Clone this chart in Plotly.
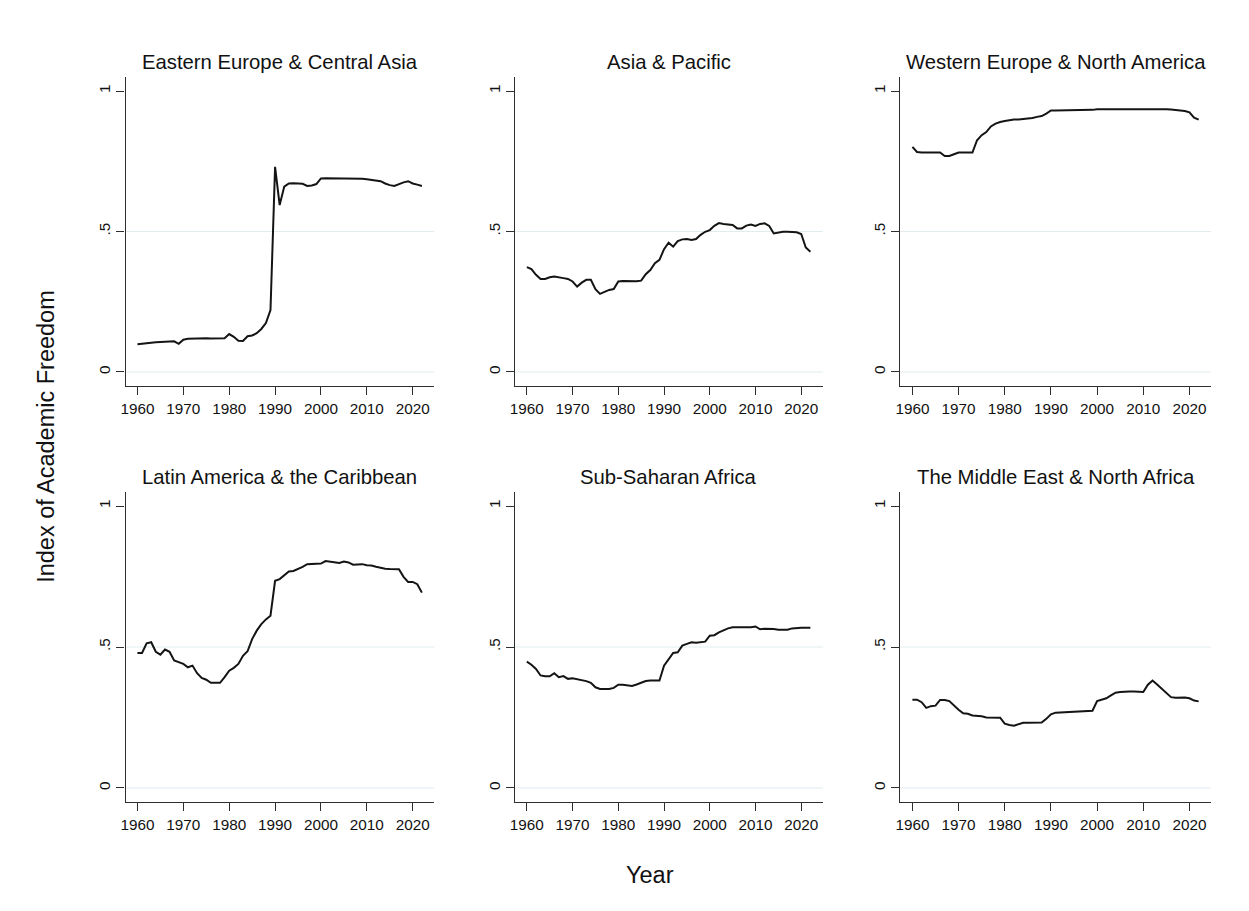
import plotly.graph_objects as go

# Academic Freedom Index, regional averages by year
years = list(range(1960, 2023))

eastern_europe_central_asia = [
    0.099, 0.101, 0.104, 0.105, 0.106, 0.107, 0.108, 0.109, 0.109, 0.100,
    0.115, 0.118, 0.119, 0.120, 0.120, 0.120, 0.119, 0.119, 0.119, 0.120,
    0.135, 0.125, 0.111, 0.110, 0.127, 0.130, 0.138, 0.153, 0.174, 0.220,
    0.730, 0.594, 0.660, 0.671, 0.672, 0.672, 0.670, 0.662, 0.664, 0.669,
    0.689, 0.690, 0.690, 0.689, 0.689, 0.690, 0.689, 0.690, 0.689, 0.688,
    0.686, 0.684, 0.680, 0.679, 0.671, 0.665, 0.662, 0.669, 0.675, 0.679,
    0.671, 0.667, 0.662,
]

asia_pacific = [
    0.373, 0.366, 0.346, 0.331, 0.331, 0.337, 0.340, 0.336, 0.334, 0.331,
    0.322, 0.304, 0.318, 0.328, 0.328, 0.295, 0.278, 0.285, 0.292, 0.295,
    0.322, 0.324, 0.323, 0.322, 0.323, 0.325, 0.348, 0.363, 0.387, 0.399,
    0.437, 0.460, 0.446, 0.466, 0.472, 0.473, 0.470, 0.473, 0.488, 0.499,
    0.505, 0.520, 0.530, 0.527, 0.525, 0.523, 0.511, 0.511, 0.521, 0.525,
    0.520, 0.527, 0.529, 0.520, 0.493, 0.496, 0.499, 0.499, 0.498, 0.497,
    0.491, 0.443, 0.428,
]

western_europe_north_america = [
    0.801, 0.783, 0.781, 0.781, 0.781, 0.781, 0.781, 0.769, 0.769, 0.775,
    0.781, 0.781, 0.780, 0.781, 0.825, 0.843, 0.854, 0.874, 0.884, 0.890,
    0.893, 0.897, 0.899, 0.899, 0.900, 0.902, 0.904, 0.908, 0.911, 0.920,
    0.931, 0.931, 0.931, 0.931, 0.931, 0.931, 0.931, 0.931, 0.931, 0.933,
    0.935, 0.935, 0.935, 0.935, 0.935, 0.935, 0.937, 0.937, 0.937, 0.937,
    0.937, 0.937, 0.937, 0.937, 0.937, 0.935, 0.934, 0.933, 0.931, 0.929,
    0.924, 0.905, 0.898,
]

latin_america_caribbean = [
    0.479, 0.479, 0.513, 0.517, 0.483, 0.473, 0.491, 0.483, 0.452, 0.446,
    0.440, 0.428, 0.434, 0.407, 0.390, 0.384, 0.373, 0.373, 0.373, 0.393,
    0.416, 0.426, 0.440, 0.469, 0.485, 0.528, 0.558, 0.581, 0.598, 0.611,
    0.735, 0.741, 0.756, 0.768, 0.770, 0.776, 0.784, 0.794, 0.794, 0.794,
    0.796, 0.805, 0.803, 0.802, 0.798, 0.803, 0.800, 0.792, 0.794, 0.794,
    0.790, 0.789, 0.785, 0.781, 0.778, 0.777, 0.776, 0.776, 0.749, 0.731,
    0.731, 0.723, 0.693,
]

sub_saharan_africa = [
    0.448, 0.437, 0.422, 0.399, 0.396, 0.396, 0.407, 0.393, 0.397, 0.387,
    0.389, 0.386, 0.381, 0.379, 0.373, 0.357, 0.351, 0.351, 0.351, 0.355,
    0.366, 0.366, 0.364, 0.362, 0.367, 0.374, 0.379, 0.381, 0.381, 0.381,
    0.434, 0.458, 0.479, 0.481, 0.505, 0.511, 0.517, 0.515, 0.517, 0.519,
    0.540, 0.542, 0.552, 0.560, 0.566, 0.570, 0.570, 0.570, 0.570, 0.570,
    0.573, 0.563, 0.565, 0.565, 0.564, 0.561, 0.560, 0.561, 0.566, 0.568,
    0.568, 0.568, 0.568,
]

middle_east_north_africa = [
    0.313, 0.313, 0.304, 0.284, 0.290, 0.292, 0.312, 0.312, 0.308, 0.292,
    0.277, 0.265, 0.263, 0.257, 0.256, 0.254, 0.250, 0.249, 0.249, 0.249,
    0.228, 0.223, 0.221, 0.225, 0.231, 0.231, 0.232, 0.232, 0.232, 0.245,
    0.261, 0.267, 0.268, 0.269, 0.269, 0.269, 0.270, 0.271, 0.272, 0.274,
    0.308, 0.312, 0.318, 0.328, 0.338, 0.340, 0.342, 0.342, 0.342, 0.341,
    0.340, 0.366, 0.381, 0.367, 0.351, 0.336, 0.322, 0.320, 0.320, 0.321,
    0.318, 0.310, 0.307,
]

region_titles = [
    "Eastern Europe & Central Asia",
    "Asia & Pacific",
    "Western Europe & North America",
    "Latin America & the Caribbean",
    "Sub-Saharan Africa",
    "The Middle East & North Africa",
]
region_series = [
    eastern_europe_central_asia,
    asia_pacific,
    western_europe_north_america,
    latin_america_caribbean,
    sub_saharan_africa,
    middle_east_north_africa,
]

x_ticks = [1960, 1970, 1980, 1990, 2000, 2010, 2020]
y_ticks = [0, 0.5, 1]
y_tick_labels = ["0", ".5", "1"]

# Page geometry (pixels)
W, H = 1249, 911
col_px = [(121, 431), (512, 821), (899, 1211)]
row_px = [(77, 386), (492, 802)]

FONT = "Liberation Sans, Arial, Helvetica, sans-serif"
AXIS_COLOR = "#2e2e2e"
GRID_COLOR = "#e2ecef"

fig = go.Figure()
annotations = []
shapes = []

for i, (title, values) in enumerate(zip(region_titles, region_series)):
    r, c = divmod(i, 3)
    n = i + 1
    xa = "x" if n == 1 else f"x{n}"
    ya = "y" if n == 1 else f"y{n}"
    x0, x1 = col_px[c]
    y0, y1 = row_px[r]
    xdom = [x0 / W, x1 / W]
    ydom = [1 - y1 / H, 1 - y0 / H]

    fig.add_trace(go.Scatter(
        x=years, y=values, mode="lines",
        line=dict(color="#141414", width=2),
        xaxis=xa, yaxis=ya, showlegend=False,
        hovertemplate="%{x}: %{y:.3f}<extra></extra>",
    ))

    fig.layout[f"xaxis{'' if n == 1 else n}"] = dict(
        domain=xdom, anchor=ya, range=[1957.4, 2024.7],
        tickmode="array", tickvals=x_ticks,
        ticks="outside", ticklen=8, tickwidth=1.3, tickcolor=AXIS_COLOR,
        showline=True, linecolor=AXIS_COLOR, linewidth=1.3,
        showgrid=False, zeroline=False,
        tickfont=dict(family=FONT, size=15.3, color="#111111"),
    )
    fig.layout[f"yaxis{'' if n == 1 else n}"] = dict(
        domain=ydom, anchor=xa, range=[-0.05, 1.05],
        tickmode="array", tickvals=y_ticks, ticktext=y_tick_labels,
        ticks="outside", ticklen=8, tickwidth=1.3, tickcolor=AXIS_COLOR,
        tickangle=-90,
        showline=True, linecolor=AXIS_COLOR, linewidth=1.3,
        showgrid=False, zeroline=False,
        tickfont=dict(family=FONT, size=15.3, color="#111111"),
    )

    # light reference lines at 0 and .5
    for gy in (0, 0.5):
        shapes.append(dict(
            type="line", xref=f"{xa} domain", yref=ya,
            x0=0, x1=1, y0=gy, y1=gy,
            line=dict(color=GRID_COLOR, width=1), layer="below",
        ))

    annotations.append(dict(
        text=title, xref="paper", yref="paper",
        x=(x0 + x1) / 2 / W, y=1 - (y0 - 2) / H,
        xanchor="center", yanchor="bottom", showarrow=False,
        font=dict(family=FONT, size=20.3, color="#111111"),
    ))

annotations.append(dict(
    text="Year", xref="paper", yref="paper",
    x=648 / W, y=1 - 875 / H, xanchor="center", yanchor="middle",
    showarrow=False, font=dict(family=FONT, size=23.5, color="#111111"),
))
annotations.append(dict(
    text="Index of Academic Freedom", xref="paper", yref="paper",
    x=41 / W, y=1 - 436 / H, xanchor="center", yanchor="middle",
    textangle=-90, showarrow=False,
    font=dict(family=FONT, size=23.5, color="#111111"),
))

fig.update_layout(
    width=W, height=H, autosize=False,
    margin=dict(l=0, r=0, t=0, b=0),
    paper_bgcolor="white", plot_bgcolor="white",
    annotations=annotations, shapes=shapes,
)

fig.write_html("out.html")
